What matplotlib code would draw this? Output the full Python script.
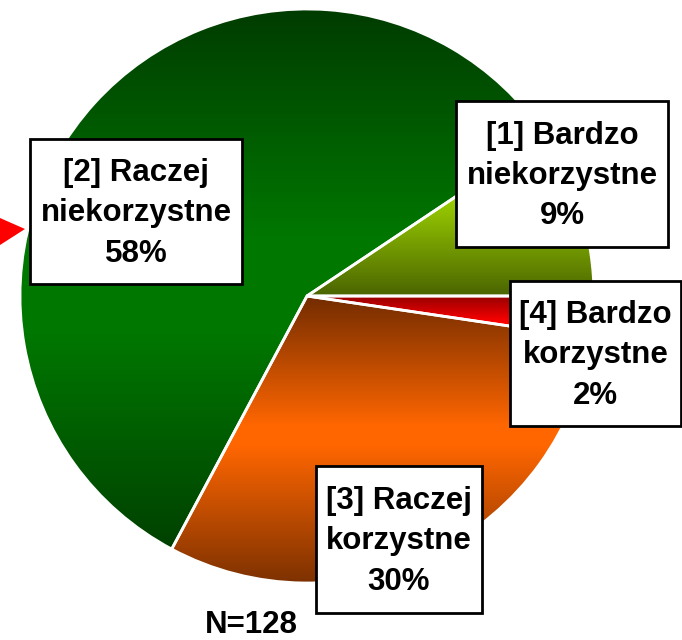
import numpy as np
import matplotlib.pyplot as plt
from matplotlib.patches import Rectangle, Polygon

## Data

categories = ['[1] Bardzo\nniekorzystne', '[2] Raczej\nniekorzystne',
              '[3] Raczej\nkorzystne', '[4] Bardzo\nkorzystne']
counts = [12, 74, 39, 3]
n_total = sum(counts)

# vertical gradient stops per slice: (pixel y from top, colour)
gradients = [
    [(200, '#99cc00'), (296, '#4a6400')],
    [(10, '#003c00'), (240, '#007800'), (330, '#007800'), (555, '#003f00')],
    [(296, '#732c00'), (425, '#ff6600'), (445, '#ff6600'), (585, '#7a3000')],
    [(296, '#990000'), (322, '#ff0000')],
]

# label boxes: (left, top, right, bottom) in pixels
boxes = [(456, 101, 668, 247), (30, 139, 242, 284),
         (316, 466, 482, 613), (510, 281, 681, 426)]

W, H = 682, 640

def hex_rgb(c):
    c = c.lstrip('#')
    return np.array([int(c[i:i + 2], 16) / 255 for i in (0, 2, 4)])

def gradient_image(stops, n=640):
    ys = np.arange(n) * H / n
    pos = [s[0] for s in stops]
    cols = np.array([hex_rgb(s[1]) for s in stops])
    img = np.zeros((n, 1, 3))
    for ch in range(3):
        img[:, 0, ch] = np.interp(ys, pos, cols[:, ch])
    return img

fig = plt.figure(figsize=(W / 100, H / 100), dpi=100)
ax = fig.add_axes([0, 0, 1, 1])

center = (307, H - 296)
radius = 287

wedges, _ = ax.pie(counts, startangle=0, counterclock=True, center=center,
                   radius=radius, frame=True,
                   wedgeprops=dict(facecolor='none', edgecolor='none'))

for w, stops in zip(wedges, gradients):
    im = ax.imshow(gradient_image(stops), extent=(0, W, 0, H), aspect='auto',
                   origin='upper', zorder=1)
    im.set_clip_path(w)

# white separators
ax.pie(counts, startangle=0, counterclock=True, center=center, radius=radius,
       frame=True, wedgeprops=dict(facecolor='none', edgecolor='white', linewidth=2, zorder=2))
ax.set_xlim(0, W)
ax.set_ylim(0, H)
ax.set_aspect('auto')
ax.axis('off')

# red pointer on the left edge
ax.add_patch(Polygon([(0, H - 218), (25, H - 229), (0, H - 245)], closed=True,
                     facecolor='#ff0000', edgecolor='none', zorder=3))

for cat, c, (l, t, r, b) in zip(categories, counts, boxes):
    ax.add_patch(Rectangle((l, H - b), r - l, b - t, facecolor='white',
                           edgecolor='black', linewidth=2, zorder=4))
    pct = round(100 * c / n_total)
    ax.text((l + r) / 2, H - (t + b) / 2 - 2, f'{cat}\n{pct}%', ha='center', va='center',
            fontsize=22.5, fontweight='bold', family='Liberation Sans',
            linespacing=1.45, zorder=5)

ax.text(251, 7, f'N={n_total}', ha='center', va='baseline', fontsize=22.5,
        fontweight='bold', family='Liberation Sans', zorder=5)

fig.savefig('out.png', dpi=100)
